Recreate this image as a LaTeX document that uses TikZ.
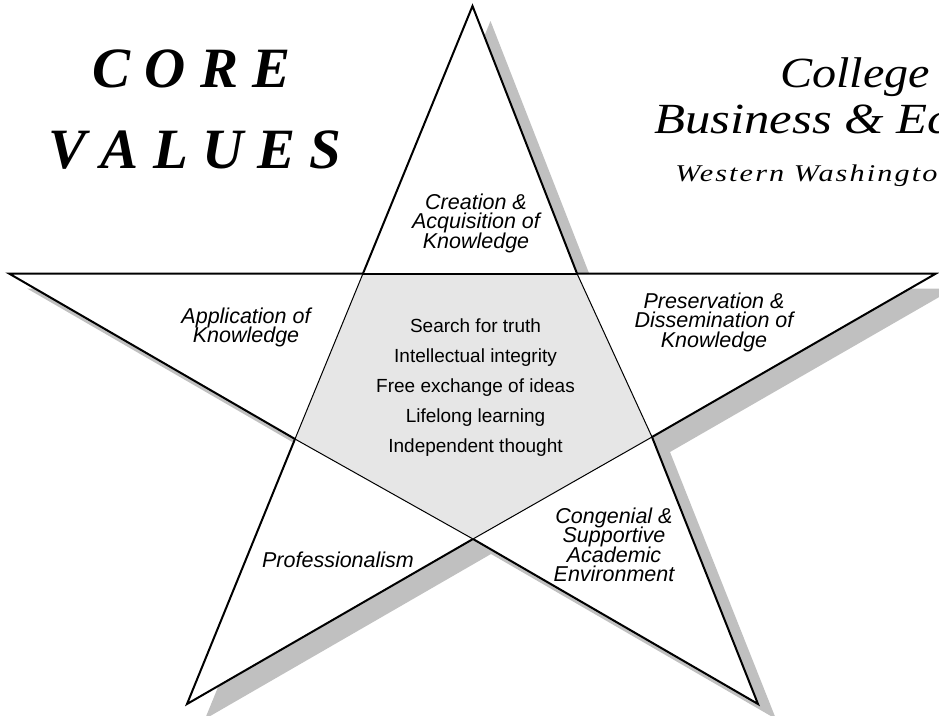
\documentclass[tikz,border=0pt]{standalone}
\usepackage{fontspec}
\setmainfont{Liberation Serif}
\setsansfont{Liberation Sans}
\definecolor{shadowgray}{HTML}{C0C0C0}
\definecolor{pentafill}{HTML}{E6E6E6}
\begin{document}
\lineskiplimit=-50pt\relax
\begin{tikzpicture}[x=1pt,y=-1pt,
  outline/.style={line width=2pt, line join=miter},
  thinline/.style={line width=1pt},
  lab/.style={font=\sffamily\itshape\fontsize{21.5}{19.5}\selectfont, align=center, inner sep=0pt, anchor=north},
  vals/.style={font=\sffamily\fontsize{19}{30}\selectfont, align=center, inner sep=0pt, anchor=north},
  bigtitle/.style={font=\bfseries\itshape\fontsize{57}{60}\selectfont, inner sep=0pt, anchor=base},
  serifhead/.style={inner sep=0pt, anchor=base west, transform shape},
]
\useasboundingbox (0,0) rectangle (939,715);
% star vertices
\coordinate (T)  at (472.5,6);
\coordinate (I1) at (577,273.5);
\coordinate (R)  at (936,273.5);
\coordinate (I2) at (652,437);
\coordinate (BR) at (758,704);
\coordinate (I3) at (473,539);
\coordinate (BL) at (187,704);
\coordinate (I4) at (295,439);
\coordinate (L)  at (9,273.5);
\coordinate (I5) at (363,273.5);
% shadow
\fill[shadowgray] ([xshift=18pt,yshift=-15pt]T) -- ([xshift=18pt,yshift=-15pt]I1) -- ([xshift=18pt,yshift=-15pt]R) -- ([xshift=18pt,yshift=-15pt]I2) -- ([xshift=18pt,yshift=-15pt]BR) -- ([xshift=18pt,yshift=-15pt]I3) -- ([xshift=18pt,yshift=-15pt]BL) -- ([xshift=18pt,yshift=-15pt]I4) -- ([xshift=18pt,yshift=-15pt]L) -- ([xshift=18pt,yshift=-15pt]I5) -- cycle;
% star
\filldraw[fill=white, outline] (T) -- (I1) -- (R) -- (I2) -- (BR) -- (I3) -- (BL) -- (I4) -- (L) -- (I5) -- cycle;
% inner pentagon
\filldraw[fill=pentafill, thinline] (I1) -- (I2) -- (I3) -- (I4) -- (I5) -- cycle;
\draw[outline] (I5) -- (I1);
% titles
\node[bigtitle] (core) at (191.5,87) {C O R E};
\node[bigtitle] (values) at (195,168) {V A L U E S};
\begin{scope}[xscale=1.12]
\node[serifhead, font=\itshape\fontsize{43}{46}\selectfont] (college) at (780/1.12,87) {College};
\end{scope}
\begin{scope}[xscale=1.18]
\node[serifhead, font=\itshape\fontsize{43}{46}\selectfont] (business) at (654/1.18,133) {Business \& Ec};
\end{scope}
\begin{scope}[xscale=1.26]
\node[serifhead, font=\itshape\fontsize{24}{28}\selectfont\addfontfeature{LetterSpace=7}] (wwu) at (675/1.26,181) {Western Washington};
\end{scope}
% labels
\node[lab] (creation) at (476,193.5) {Creation \&\\Acquisition of\\Knowledge};
\node[lab] (application) at (246,307.5) {Application of\\Knowledge};
\node[lab] (preservation) at (714,292.5) {Preservation \&\\Dissemination of\\Knowledge};
\node[lab] (professionalism) at (338,551.5) {Professionalism};
\node[lab] (congenial) at (614,507.5) {Congenial \&\\Supportive\\Academic\\Environment};
\node[vals] (valuelist) at (475.5,319) {Search for truth\\Intellectual integrity\\Free exchange of ideas\\Lifelong learning\\Independent thought};
\end{tikzpicture}
\end{document}
